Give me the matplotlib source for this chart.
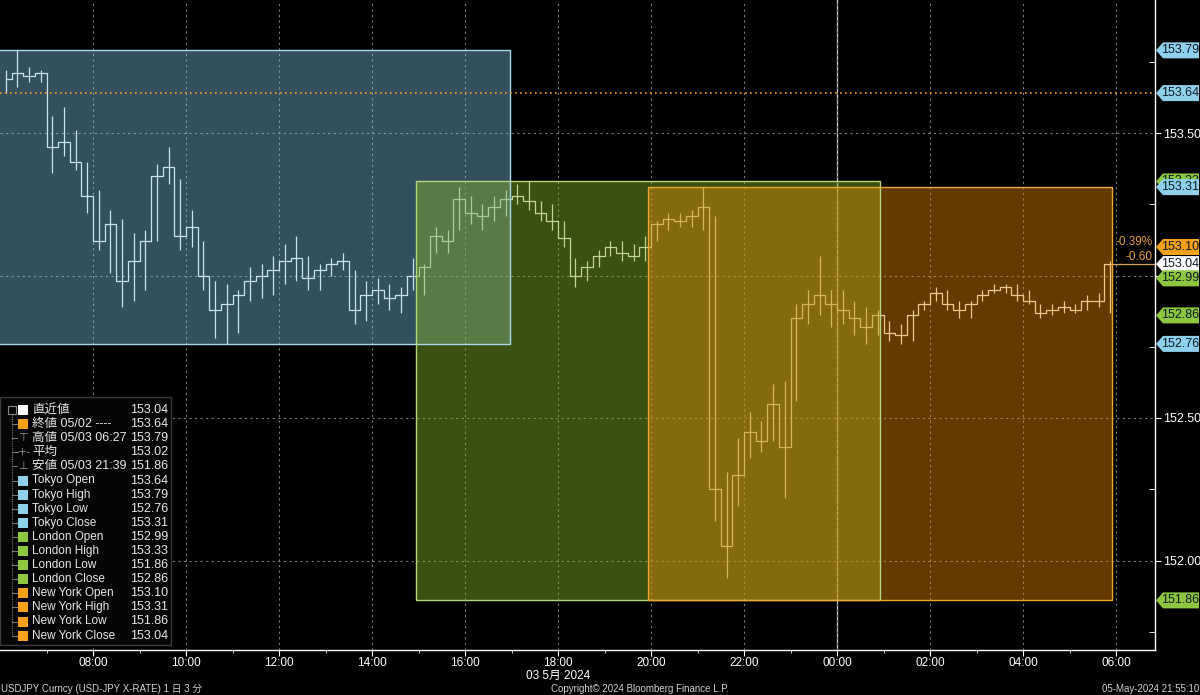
import matplotlib
matplotlib.use("Agg")
import matplotlib.pyplot as plt
import numpy as np
from matplotlib.patches import Rectangle, Polygon
from matplotlib.transforms import blended_transform_factory

plt.rcParams['font.family'] = ['Liberation Sans', 'Noto Sans CJK JP', 'DejaVu Sans']

# ---- data (USD-JPY, 15-minute bars from 06:00 on 03 May) ----
bar_start = 6.0      # hours since 00:00 03 May
bar_step = 0.25
bar_high = [153.72, 153.79, 153.73, 153.72, 153.56, 153.59, 153.51, 153.40, 153.30, 153.23,
            153.20, 153.15, 153.16, 153.39, 153.45, 153.34, 153.23, 153.12, 152.98, 152.97,
            152.95, 153.03, 153.04, 153.07, 153.11, 153.14, 153.07, 153.04, 153.06, 153.08,
            153.02, 152.98, 152.99, 152.97, 152.96, 153.06, 153.04, 153.17, 153.16, 153.31,
            153.28, 153.25, 153.28, 153.30, 153.32, 153.33, 153.26, 153.25, 153.19, 153.06,
            153.05, 153.09, 153.12, 153.12, 153.11, 153.14, 153.19, 153.22, 153.22, 153.23,
            153.31, 153.21, 152.31, 152.43, 152.52, 152.49, 152.62, 152.63, 152.90, 152.95,
            153.07, 152.95, 152.95, 152.91, 152.89, 152.88, 152.84, 152.83, 152.88, 152.91,
            152.96, 152.95, 152.91, 152.91, 152.95, 152.97, 152.97, 152.97, 152.95, 152.90,
            152.90, 152.91, 152.90, 152.93, 152.94, 153.05]
bar_low = [153.64, 153.66, 153.68, 153.68, 153.36, 153.42, 153.37, 153.22, 153.09, 153.01,
           152.89, 152.91, 152.95, 153.12, 153.32, 153.09, 153.10, 152.95, 152.78, 152.76,
           152.80, 152.91, 152.92, 152.93, 152.97, 152.98, 152.95, 152.95, 153.00, 153.02,
           152.83, 152.84, 152.90, 152.88, 152.87, 152.95, 152.93, 153.08, 153.08, 153.16,
           153.18, 153.16, 153.19, 153.21, 153.25, 153.23, 153.19, 153.16, 153.10, 152.96,
           152.98, 153.03, 153.07, 153.05, 153.05, 153.05, 153.12, 153.16, 153.17, 153.17,
           153.16, 152.14, 151.94, 152.19, 152.36, 152.38, 152.42, 152.22, 152.56, 152.83,
           152.86, 152.82, 152.83, 152.79, 152.76, 152.79, 152.77, 152.76, 152.77, 152.88,
           152.91, 152.88, 152.85, 152.85, 152.91, 152.94, 152.94, 152.91, 152.90, 152.85,
           152.86, 152.87, 152.87, 152.88, 152.89, 152.87]
bar_close = [153.69, 153.71, 153.70, 153.71, 153.45, 153.47, 153.40, 153.28, 153.12, 153.18,
             152.98, 153.05, 153.12, 153.35, 153.38, 153.14, 153.17, 153.00, 152.88, 152.90,
             152.93, 152.98, 153.00, 153.02, 153.05, 153.06, 152.99, 153.02, 153.04, 153.05,
             152.88, 152.93, 152.95, 152.92, 152.93, 153.00, 153.03, 153.14, 153.12, 153.27,
             153.22, 153.21, 153.24, 153.27, 153.28, 153.26, 153.22, 153.19, 153.13, 153.00,
             153.03, 153.07, 153.10, 153.08, 153.07, 153.10, 153.18, 153.20, 153.19, 153.21,
             153.24, 152.25, 152.05, 152.30, 152.45, 152.42, 152.55, 152.40, 152.85, 152.90,
             152.93, 152.90, 152.88, 152.85, 152.82, 152.86, 152.80, 152.79, 152.86, 152.90,
             152.94, 152.90, 152.88, 152.90, 152.93, 152.95, 152.96, 152.93, 152.91, 152.87,
             152.88, 152.89, 152.88, 152.91, 152.91, 153.04]

sessions = ['Tokyo', 'London', 'New York']
session_start = [5.9, 14.94, 19.94]
session_end = [16.97, 24.93, 29.92]
session_high = [153.79, 153.33, 153.31]
session_low = [152.76, 151.86, 151.86]
session_fill = ['#87cef0', '#85b22c', '#ee8f00']
session_alpha = [0.39, 0.45, 0.42]
session_edge = ['#a9d9ee', '#b3d77a', '#f2a531']

prev_close = 153.64
last_price = 153.04

tag_values = [153.79, 153.64, 153.33, 153.31, 153.10, 153.04, 152.99, 152.86, 152.76, 151.86]
tag_colors = ['#8fd0ec', '#8fd0ec', '#8dc63f', '#8fd0ec', '#f7a11a', '#ffffff',
              '#8dc63f', '#8dc63f', '#8fd0ec', '#8dc63f']

legend_labels = ['直近値', '終値 05/02 ----', '高値 05/03 06:27', '平均', '安値 05/03 21:39',
                 'Tokyo Open', 'Tokyo High', 'Tokyo Low', 'Tokyo Close',
                 'London Open', 'London High', 'London Low', 'London Close',
                 'New York Open', 'New York High', 'New York Low', 'New York Close']
legend_values = ['153.04', '153.64', '153.79', '153.02', '151.86',
                 '153.64', '153.79', '152.76', '153.31',
                 '152.99', '153.33', '151.86', '152.86',
                 '153.10', '153.31', '151.86', '153.04']
legend_marks = ['#ffffff', '#f7a11a', '⊤', '-+-', '⊥'] + ['#8fd0ec'] * 4 + ['#8dc63f'] * 4 + ['#f7a11a'] * 4

W, H = 1200, 695
fig = plt.figure(figsize=(W / 100, H / 100), dpi=100, facecolor='black')
ax = fig.add_axes([0, 45 / H, 1155 / W, 650 / H])
ax.set_facecolor('black')

def fx(x):
    return x / W

def fy(y):
    return 1 - y / H

# ---- price bars ----
t = bar_start + bar_step * np.arange(len(bar_close)) + bar_step / 2
ax.vlines(t, bar_low, bar_high, color='#f2f2f2', lw=0.9, zorder=2)
ax.step(t, bar_close, where='mid', color='#f2f2f2', lw=0.9, zorder=2)
ax.hlines(last_price, t[-1], 31, color='#d8a860', lw=0.9, zorder=2)

# ---- session boxes ----
for s0, s1, hi, lo, fc, a, ec in zip(session_start, session_end, session_high, session_low,
                                       session_fill, session_alpha, session_edge):
    ax.add_patch(Rectangle((s0, lo), s1 - s0, hi - lo, facecolor=fc, alpha=a,
                           edgecolor='none', zorder=3))
    ax.add_patch(Rectangle((s0, lo), s1 - s0, hi - lo, facecolor='none',
                           edgecolor=ec, lw=1.0, zorder=4))

# previous close line and day divider
ax.axhline(prev_close, color='#f7a11a', lw=1.2, ls=(0, (1, 2)), zorder=5)
ax.axvline(24, color='#d0d0d0', lw=0.9, zorder=1.5)

ax.set_xlim(6, 6 + 1155 / 46.5)
ax.set_ylim(153.5 - 517 / 285, 153.5 + 133 / 285)

hours = list(range(8, 31, 2))
ax.set_xticks(hours)
ax.set_xticklabels([f'{h % 24:02d}:00' for h in hours])
ax.set_xticks(list(range(7, 31)), minor=True)
ax.tick_params(axis='x', which='both', colors='white', labelcolor='white',
               direction='out', labelsize=8.5, pad=1)
ax.tick_params(axis='x', which='major', length=4)
ax.tick_params(axis='x', which='minor', length=2)

ax.yaxis.tick_right()
ax.set_yticks([152.0, 152.5, 153.0, 153.5])
ax.set_yticklabels(['152.00', '152.50', '', '153.50'])
ax.set_yticks([151.75, 152.25, 152.75, 153.25, 153.75], minor=True)
ax.tick_params(axis='y', which='major', colors='white', labelcolor='white',
               direction='out', length=4, labelsize=9, pad=2)
ax.tick_params(axis='y', which='minor', colors='white', direction='in', length=4)

ax.grid(True, which='major', color='#7a7a7a', lw=0.8, ls=(0, (2, 3)), zorder=1)
for side in ['left', 'top']:
    ax.spines[side].set_visible(False)
for side in ['right', 'bottom']:
    ax.spines[side].set_color('white')
    ax.spines[side].set_linewidth(1.0)

# ---- right-hand price tags (later tags sit on top of earlier ones) ----
trans = blended_transform_factory(ax.transAxes, ax.transData)
hh = 8 / 285
for k, (v, c) in enumerate(zip(tag_values, tag_colors)):
    x0, x1, x2 = 1156 / 1155, 1163 / 1155, 1199 / 1155
    poly = Polygon([[x0, v], [x1, v + hh], [x2, v + hh], [x2, v - hh], [x1, v - hh]],
                   closed=True, transform=trans, facecolor=c, edgecolor='none',
                   clip_on=False, zorder=10 + 2 * k)
    ax.add_patch(poly)
    ax.text(1180 / 1155, v, f'{v:.2f}', transform=trans, ha='center', va='center',
            fontsize=9, color='#0d1a26', clip_on=False, zorder=11 + 2 * k)

ax.text(1153 / 1155, 153.5 - (242 - 133) / 285, '-0.39%', transform=trans, ha='right',
        va='center', fontsize=8.5, color='#e8a040', zorder=11)
ax.text(1153 / 1155, 153.5 - (257 - 133) / 285, '-0.60', transform=trans, ha='right',
        va='center', fontsize=8.5, color='#e8a040', zorder=11)

# ---- legend panel ----
fig.patches.append(Rectangle((fx(0), fy(645)), fx(171), fy(397) - fy(645), transform=fig.transFigure,
                             facecolor='#050505', edgecolor='#3a3a3a', lw=1.0, zorder=5))
row_y0, row_dy = 410, 14.1
fig.lines.append(plt.Line2D([fx(12), fx(12)], [fy(414), fy(row_y0 + 16 * row_dy)],
                            transform=fig.transFigure, color='#777777', lw=0.8, ls=(0, (1, 1)), zorder=6))
fig.patches.append(Rectangle((fx(8), fy(414)), fx(8), fy(406) - fy(414), transform=fig.transFigure,
                             facecolor='none', edgecolor='#888888', lw=0.8, zorder=6))
for i, (lab, val, mk) in enumerate(zip(legend_labels, legend_values, legend_marks)):
    y = row_y0 + i * row_dy
    if i > 0:
        fig.lines.append(plt.Line2D([fx(12), fx(17)], [fy(y), fy(y)], transform=fig.transFigure,
                                    color='#777777', lw=0.8, zorder=6))
    if mk.startswith('#'):
        fig.patches.append(Rectangle((fx(18), fy(y + 5)), fx(10), fy(y - 5) - fy(y + 5),
                                     transform=fig.transFigure, facecolor=mk, edgecolor='none', zorder=6))
    else:
        fig.text(fx(23), fy(y), mk, ha='center', va='center', fontsize=8 if mk != '-+-' else 7,
                 color='#9a9a9a', family='DejaVu Sans', zorder=7)
    big = i < 5
    fig.text(fx(32), fy(y), lab, ha='left', va='center', fontsize=9 if big else 8.5,
             color='#e8e8e8', zorder=7)
    fig.text(fx(168), fy(y), val, ha='right', va='center', fontsize=9, color='#e8e8e8', zorder=7)

# ---- footer ----
fig.text(fx(558), fy(676), '03 5月 2024', ha='center', va='center', fontsize=8.5, color='white')
fig.text(fx(1), fy(689), 'USDJPY Curncy (USD-JPY X-RATE) 1 日 3 分', ha='left', va='center',
         fontsize=7, color='#d0d0d0')
fig.text(fx(640), fy(689), 'Copyright© 2024 Bloomberg Finance L.P.', ha='center', va='center',
         fontsize=7, color='#d0d0d0')
fig.text(fx(1199), fy(689), '05-May-2024 21:55:10', ha='right', va='center',
         fontsize=7, color='#d0d0d0')

fig.savefig('out.png', dpi=100, facecolor='black')
